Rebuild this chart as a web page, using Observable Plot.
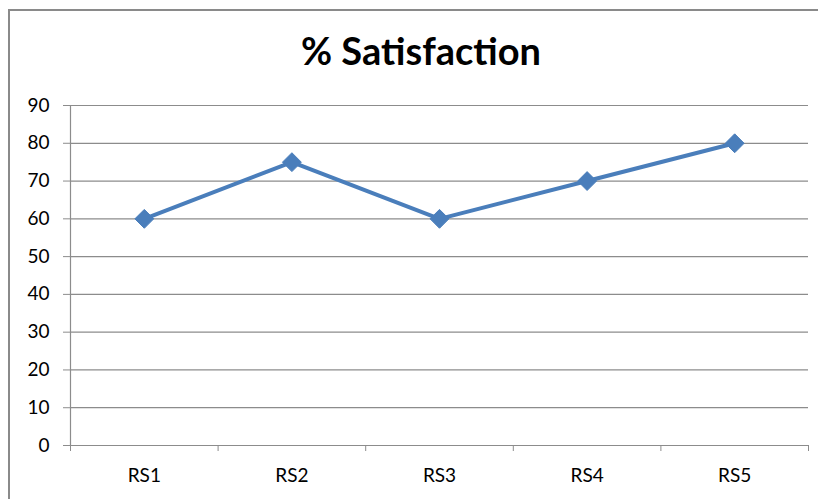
<!DOCTYPE html>
<html>
<head>
<meta charset="utf-8">
<script src="https://cdn.jsdelivr.net/npm/d3@7"></script>
<script src="https://cdn.jsdelivr.net/npm/@observablehq/plot@0.6"></script>
<style>
  html, body { margin: 0; padding: 0; background: #fff; }
  #wrap { position: relative; width: 818px; height: 499px; overflow: hidden; font-family: Lato, "Open Sans", sans-serif; }
  #frame { position: absolute; left: 8px; top: 9px; width: 830px; height: 520px; border-left: 2px solid #8a8a8a; border-top: 2px solid #8a8a8a; box-sizing: border-box; }
  #title { position: absolute; left: 0; top: 28px; width: 842px; text-align: center; font-weight: 700; font-size: 38px; line-height: 1.2; color: #000; }
  #chart { position: absolute; left: 0; top: 0; }
</style>
</head>
<body>
<div id="wrap">
  <div id="frame"></div>
  <div id="title">% Satisfaction</div>
  <div id="chart"></div>
</div>
<script>
const categories = ["RS1", "RS2", "RS3", "RS4", "RS5"];
const satisfaction = [60, 75, 60, 70, 80];
const yTicks = [0, 10, 20, 30, 40, 50, 60, 70, 80, 90];

const data = categories.map((c, i) => ({pos: i + 0.5, cat: c, value: satisfaction[i]}));
const boundaries = d3.range(0, categories.length + 1);
const centers = categories.map((c, i) => i + 0.5);

const plot = Plot.plot({
  width: 818,
  height: 499,
  marginTop: 105,
  marginBottom: 54,
  marginLeft: 70,
  marginRight: 10,
  style: {fontFamily: "Lato, 'Open Sans', sans-serif", fontSize: "19px", color: "#000", background: "transparent", overflow: "visible"},
  x: {type: "linear", domain: [0, categories.length]},
  y: {domain: [0, 90]},
  marks: [
    Plot.ruleY(yTicks, {stroke: "#8c8c8c", strokeWidth: 1.2, strokeOpacity: 1}),
    Plot.ruleX([0], {stroke: "#8c8c8c", strokeWidth: 1.2}),
    Plot.axisY({ticks: yTicks, tickSize: 7, tickPadding: 14, stroke: "#8c8c8c", tickFormat: d => String(d), label: null, fill: "#000"}),
    Plot.axisX({ticks: boundaries, tickSize: 6, tickFormat: () => "", stroke: "#8c8c8c", label: null}),
    Plot.axisX({ticks: centers, tickSize: 0, tickPadding: 23, tickFormat: d => categories[Math.round(d - 0.5)], label: null, fill: "#000"}),
    Plot.line(data, {x: "pos", y: "value", stroke: "#4a7ebb", strokeWidth: 4}),
    Plot.dot(data, {x: "pos", y: "value", symbol: "diamond2", r: 8.5, fill: "#4a7ebb", stroke: "#4a7ebb", strokeWidth: 1})
  ]
});
document.getElementById("chart").appendChild(plot);
</script>
</body>
</html>
